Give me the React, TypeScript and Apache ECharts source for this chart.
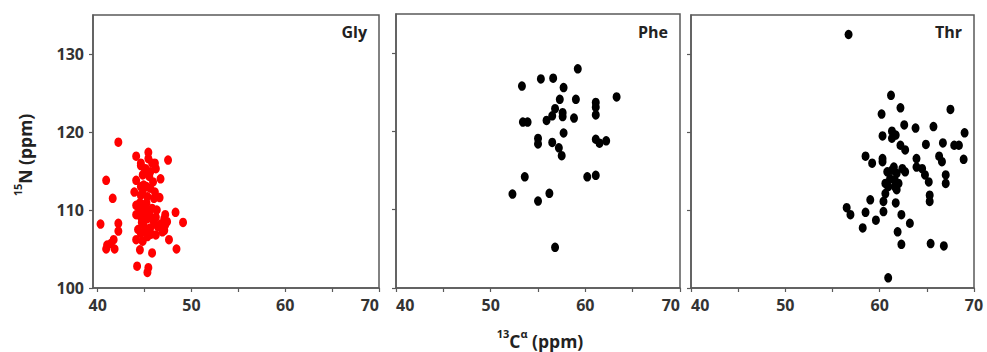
import React, { useEffect, useRef } from "react";
import * as echarts from "echarts";

const glyC = [42.2, 40.9, 41.6, 40.3, 42.2, 42.2, 40.9, 41.0, 41.4, 41.7, 41.8, 44.1, 45.4, 47.5, 44.6, 46.1, 45.4, 44.6, 45.1, 45.8, 46.2, 44.8, 45.5, 44.1, 46.7, 44.9, 45.6, 43.9, 44.6, 45.3, 46.0, 46.6, 44.1, 44.4, 45.1, 45.8, 44.1, 44.6, 45.3, 46.2, 47.1, 47.2, 48.3, 49.1, 44.9, 45.6, 46.4, 47.2, 47.4, 44.6, 45.3, 46.2, 46.9, 47.1, 44.1, 44.8, 47.6, 48.4, 44.5, 45.8, 44.2, 45.3, 45.4, 45.0, 45.2, 44.8, 45.5, 46.0, 44.3, 44.6, 45.9, 45.2, 44.9, 46.3, 45.9, 44.7, 46.7, 45.7, 45.0, 45.6, 44.5, 46.1];
const glyN = [118.7, 113.8, 111.5, 108.2, 108.3, 107.3, 105.0, 105.5, 105.7, 106.2, 105.0, 116.9, 117.4, 116.4, 116.0, 116.0, 116.6, 115.7, 115.3, 116.0, 115.3, 114.5, 114.3, 113.8, 114.0, 113.2, 112.8, 112.3, 111.9, 111.7, 111.5, 111.6, 110.6, 110.2, 110.4, 110.2, 109.4, 109.1, 108.9, 109.1, 108.9, 109.4, 109.7, 108.4, 108.1, 107.7, 107.9, 108.1, 108.5, 107.0, 106.6, 106.8, 107.2, 107.4, 106.2, 106.0, 106.2, 105.0, 104.9, 104.5, 102.8, 102.0, 102.6, 114.8, 113.0, 112.5, 109.6, 108.4, 107.5, 113.0, 113.6, 110.9, 109.8, 110.0, 108.8, 108.4, 108.2, 106.9, 107.3, 114.9, 110.9, 112.3];

const pheC = [59.2, 55.3, 56.6, 53.3, 57.7, 63.3, 57.3, 59.0, 61.1, 61.1, 61.1, 56.8, 56.5, 57.6, 57.6, 58.8, 55.9, 53.4, 53.9, 57.7, 55.0, 55.0, 56.5, 61.1, 61.5, 62.2, 57.2, 57.5, 53.6, 60.2, 61.1, 52.3, 56.2, 55.0, 56.8];
const pheN = [128.0, 126.7, 126.8, 125.8, 125.6, 124.4, 124.1, 124.1, 123.7, 123.1, 122.1, 122.9, 122.0, 122.4, 121.9, 121.7, 121.4, 121.2, 121.2, 119.8, 119.1, 118.4, 118.6, 119.0, 118.5, 118.8, 117.9, 116.9, 114.2, 114.2, 114.4, 112.0, 112.1, 111.1, 105.2];

const thrC = [56.7, 61.2, 62.2, 60.2, 67.5, 62.6, 63.8, 65.7, 69.0, 60.3, 61.3, 61.3, 61.7, 62.2, 62.7, 64.9, 66.7, 67.9, 68.4, 68.9, 66.3, 66.6, 58.5, 59.2, 60.3, 60.3, 63.9, 63.9, 64.5, 64.8, 65.2, 67.0, 67.0, 65.3, 65.3, 60.8, 61.3, 61.8, 61.1, 61.6, 62.0, 60.6, 62.4, 62.7, 61.5, 60.9, 61.6, 60.6, 61.8, 60.4, 60.4, 59.0, 61.7, 62.3, 56.5, 56.9, 58.5, 59.6, 58.2, 63.2, 61.9, 62.3, 65.4, 66.8, 60.9];
const thrN = [132.5, 124.7, 123.1, 122.3, 122.9, 120.9, 120.5, 120.7, 119.9, 119.5, 120.1, 119.2, 119.6, 118.3, 117.7, 118.4, 118.6, 118.3, 118.3, 116.5, 116.9, 116.2, 116.9, 116.0, 116.6, 116.2, 116.6, 115.5, 115.3, 114.5, 113.6, 114.5, 113.4, 111.9, 111.1, 114.9, 115.1, 114.7, 114.0, 113.8, 113.4, 113.4, 115.3, 114.9, 115.5, 113.0, 113.0, 112.1, 112.6, 111.1, 109.8, 111.3, 110.9, 109.4, 110.3, 109.4, 109.7, 108.7, 107.7, 108.3, 107.2, 105.6, 105.7, 105.4, 101.3];

const panelNames = ["Gly", "Phe", "Thr"];
const xLabelValues = [40, 50, 60, 70];
const xTickValues = [40, 45, 50, 55, 60, 65, 70];
const yTickValues = [100, 110, 120, 130];

const FONT = "'Open Sans', 'Noto Sans', sans-serif";
const AXIS_COLOR = "#5a5a5a";
const LABEL_COLOR = "#333";

const zip = (xs: number[], ys: number[]) => xs.map((x, i) => [x, ys[i]]);

export default function App() {
  const ref = useRef<HTMLDivElement>(null);
  useEffect(() => {
    if (!ref.current) return;
    const chart = echarts.init(ref.current, null, { renderer: "svg" });
    const grids = [
      { left: 93, top: 15, width: 286, height: 273 },
      { left: 396, top: 14, width: 284, height: 274 },
      { left: 691, top: 15, width: 283, height: 273 },
    ];
    const xMins = [39.5, 40, 40];
    const minAlign = ["center", "left", "left"];
    const maxAlign = ["right", "right", "center"];
    const colors = ["#ff0000", "#000000", "#000000"];
    const datasets = [zip(glyC, glyN), zip(pheC, pheN), zip(thrC, thrN)];

    const supStyle = { fontSize: 11, fontWeight: "bold", fontFamily: FONT, fill: "#222", verticalAlign: "top", lineHeight: 22, padding: [0, 0, 7, 0] };
    const mainStyle = { fontSize: 17.5, fontWeight: "bold", fontFamily: FONT, fill: "#222", verticalAlign: "bottom", lineHeight: 22 };

    const option: any = {
      animation: false,
      grid: grids.map((g) => ({
        ...g,
        show: true,
        borderColor: AXIS_COLOR,
        borderWidth: 1.5,
        backgroundColor: "transparent",
      })),
      xAxis: grids.map((_, i) => ({
        type: "value",
        gridIndex: i,
        min: xMins[i],
        max: 70,
        axisLine: { show: true, lineStyle: { color: AXIS_COLOR, width: 1.5 } },
        axisTick: {
          show: true,
          length: 4,
          customValues: xTickValues,
          lineStyle: { color: AXIS_COLOR, width: 1.2 },
        },
        axisLabel: {
          show: true,
          customValues: xLabelValues,
          margin: 9,
          color: LABEL_COLOR,
          fontFamily: FONT,
          fontWeight: "bold",
          fontSize: 16,
          alignMinLabel: minAlign[i],
          alignMaxLabel: maxAlign[i],
        },
        splitLine: { show: false },
      })),
      yAxis: grids.map((_, i) => ({
        type: "value",
        gridIndex: i,
        min: 100,
        max: 135,
        axisLine: { show: true, lineStyle: { color: AXIS_COLOR, width: 1.5 } },
        axisTick: {
          show: true,
          length: 4,
          customValues: yTickValues,
          lineStyle: { color: AXIS_COLOR, width: 1.2 },
        },
        axisLabel: {
          show: i === 0,
          customValues: yTickValues,
          margin: 9,
          color: LABEL_COLOR,
          fontFamily: FONT,
          fontWeight: "bold",
          fontSize: 16,
        },
        splitLine: { show: false },
      })),
      series: datasets.map((d, i) => ({
        type: "scatter",
        xAxisIndex: i,
        yAxisIndex: i,
        data: d,
        symbol: "circle",
        symbolSize: [8, 9.5],
        itemStyle: { color: colors[i], opacity: 1 },
      })),
      graphic: [
        ...panelNames.map((name, i) => ({
          type: "text",
          right: 987 - (grids[i].left + grids[i].width) + 12,
          top: 24,
          style: {
            text: name,
            fill: "#222",
            font: `bold 16px ${FONT}`,
          },
        })),
        {
          type: "text",
          x: 540,
          y: 339,
          style: {
            text: "{s|13}{m|C}{s|α}{m| (ppm)}",
            align: "center",
            verticalAlign: "middle",
            fill: "#222",
            rich: { s: supStyle, m: mainStyle },
          },
        },
        {
          type: "text",
          x: 23,
          y: 155,
          rotation: Math.PI / 2,
          style: {
            text: "{s|15}{m|N (ppm)}",
            align: "center",
            verticalAlign: "middle",
            fill: "#222",
            rich: { s: supStyle, m: mainStyle },
          },
        },
      ],
    };
    chart.setOption(option);
    return () => chart.dispose();
  }, []);
  return <div ref={ref} style={{ width: 987, height: 352, position: "absolute", left: 0, top: 0 }} />;
}
